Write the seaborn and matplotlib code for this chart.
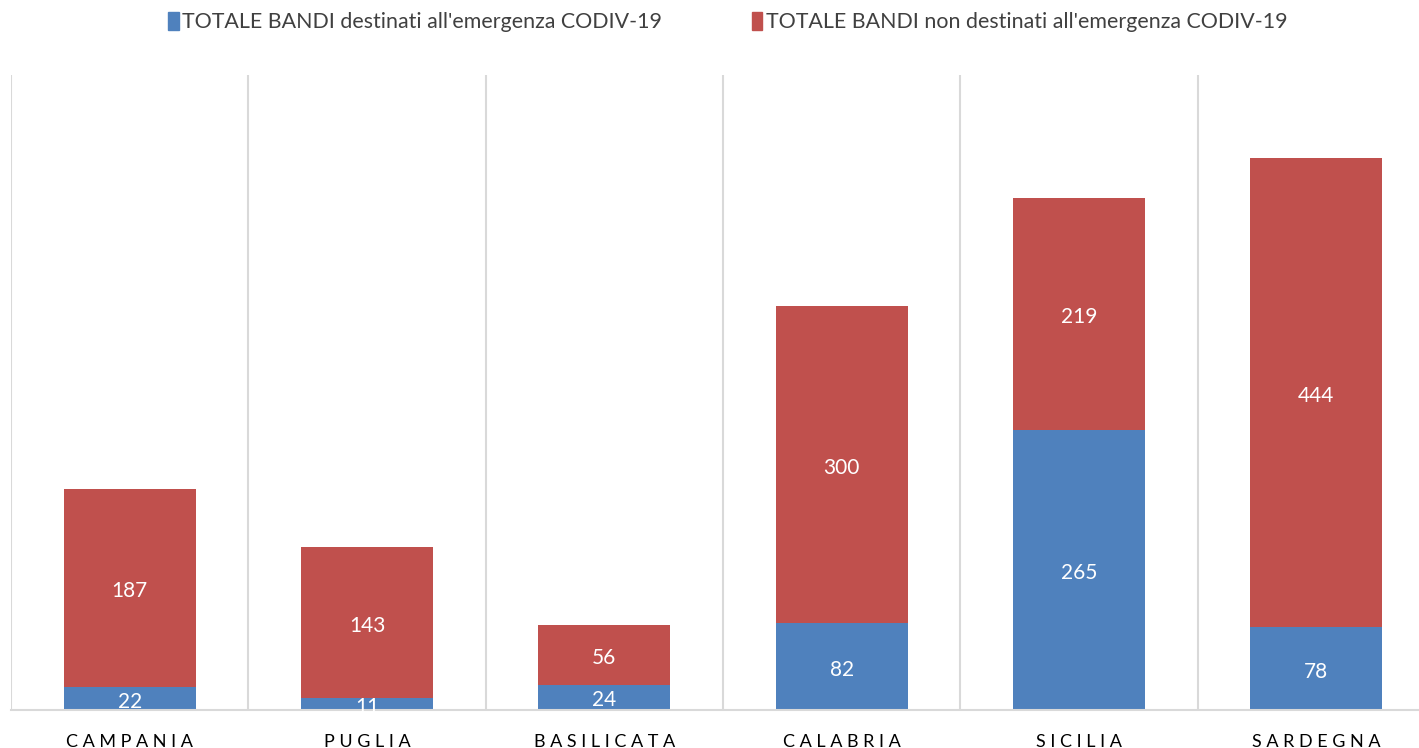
import matplotlib
matplotlib.use("Agg")
import matplotlib.pyplot as plt
import seaborn as sns
import numpy as np
import pandas as pd
from matplotlib.patches import Patch

regions = ["CAMPANIA", "PUGLIA", "BASILICATA", "CALABRIA", "SICILIA", "SARDEGNA"]
covid = [22, 11, 24, 82, 265, 78]
non_covid = [187, 143, 56, 300, 219, 444]
series_names = ["TOTALE BANDI destinati all'emergenza CODIV-19",
                "TOTALE BANDI non destinati all'emergenza CODIV-19"]

BLUE = "#4F81BD"
RED = "#C0504D"
GRID = "#D9D9D9"

sns.set_theme(style="white")
plt.rcParams['font.family'] = ['Lato', 'DejaVu Sans']

df = pd.DataFrame({"region": regions, "covid": covid, "non": non_covid})
df["total"] = df["covid"] + df["non"]

fig = plt.figure(figsize=(14.19, 7.48), dpi=100)
ax = fig.add_axes([11/1419, 38/748, 1424/1419, 635/748])

sns.barplot(data=df, x="region", y="total", color=RED, saturation=1, width=0.556,
            ax=ax, linewidth=0, edgecolor=RED)
sns.barplot(data=df, x="region", y="covid", color=BLUE, saturation=1, width=0.556,
            ax=ax, linewidth=0, edgecolor=BLUE)

ax.set_ylim(0, 600)
ax.set_xlim(-0.5, len(regions) - 0.5)
ax.set_xlabel("")
ax.set_ylabel("")
ax.set_yticks([])

# separators between categories
ax.set_xticks(np.arange(-0.5, len(regions), 1.0), minor=True)
ax.grid(axis="x", which="minor", color=GRID, linewidth=1.5)
ax.grid(axis="x", which="major", visible=False)
ax.tick_params(axis="x", which="both", length=0)
ax.set_xticks(range(len(regions)))
ax.set_xticklabels([" ".join(list(r)) for r in regions],
                   fontsize=13, color="#000000")
ax.tick_params(axis="x", pad=17)

for s in ["top", "right", "left"]:
    ax.spines[s].set_visible(False)
ax.spines["bottom"].set_color(GRID)
ax.spines["bottom"].set_linewidth(1.5)

for i, (c, n) in enumerate(zip(covid, non_covid)):
    ax.text(i, c / 2 - 3, str(c), ha="center", va="center", color="white", fontsize=15)
    ax.text(i, c + n / 2 - 3, str(n), ha="center", va="center", color="white", fontsize=15)

handles = [Patch(color=BLUE), Patch(color=RED)]
fig.legend(handles, series_names, loc="center", bbox_to_anchor=(0.5127, 1 - 22/748),
           ncol=2, frameon=False, fontsize=15.4, handlelength=0.5, handleheight=0.9,
           handletextpad=0.15, columnspacing=4.2, labelcolor="#404040")

fig.savefig("out.png", dpi=100)
